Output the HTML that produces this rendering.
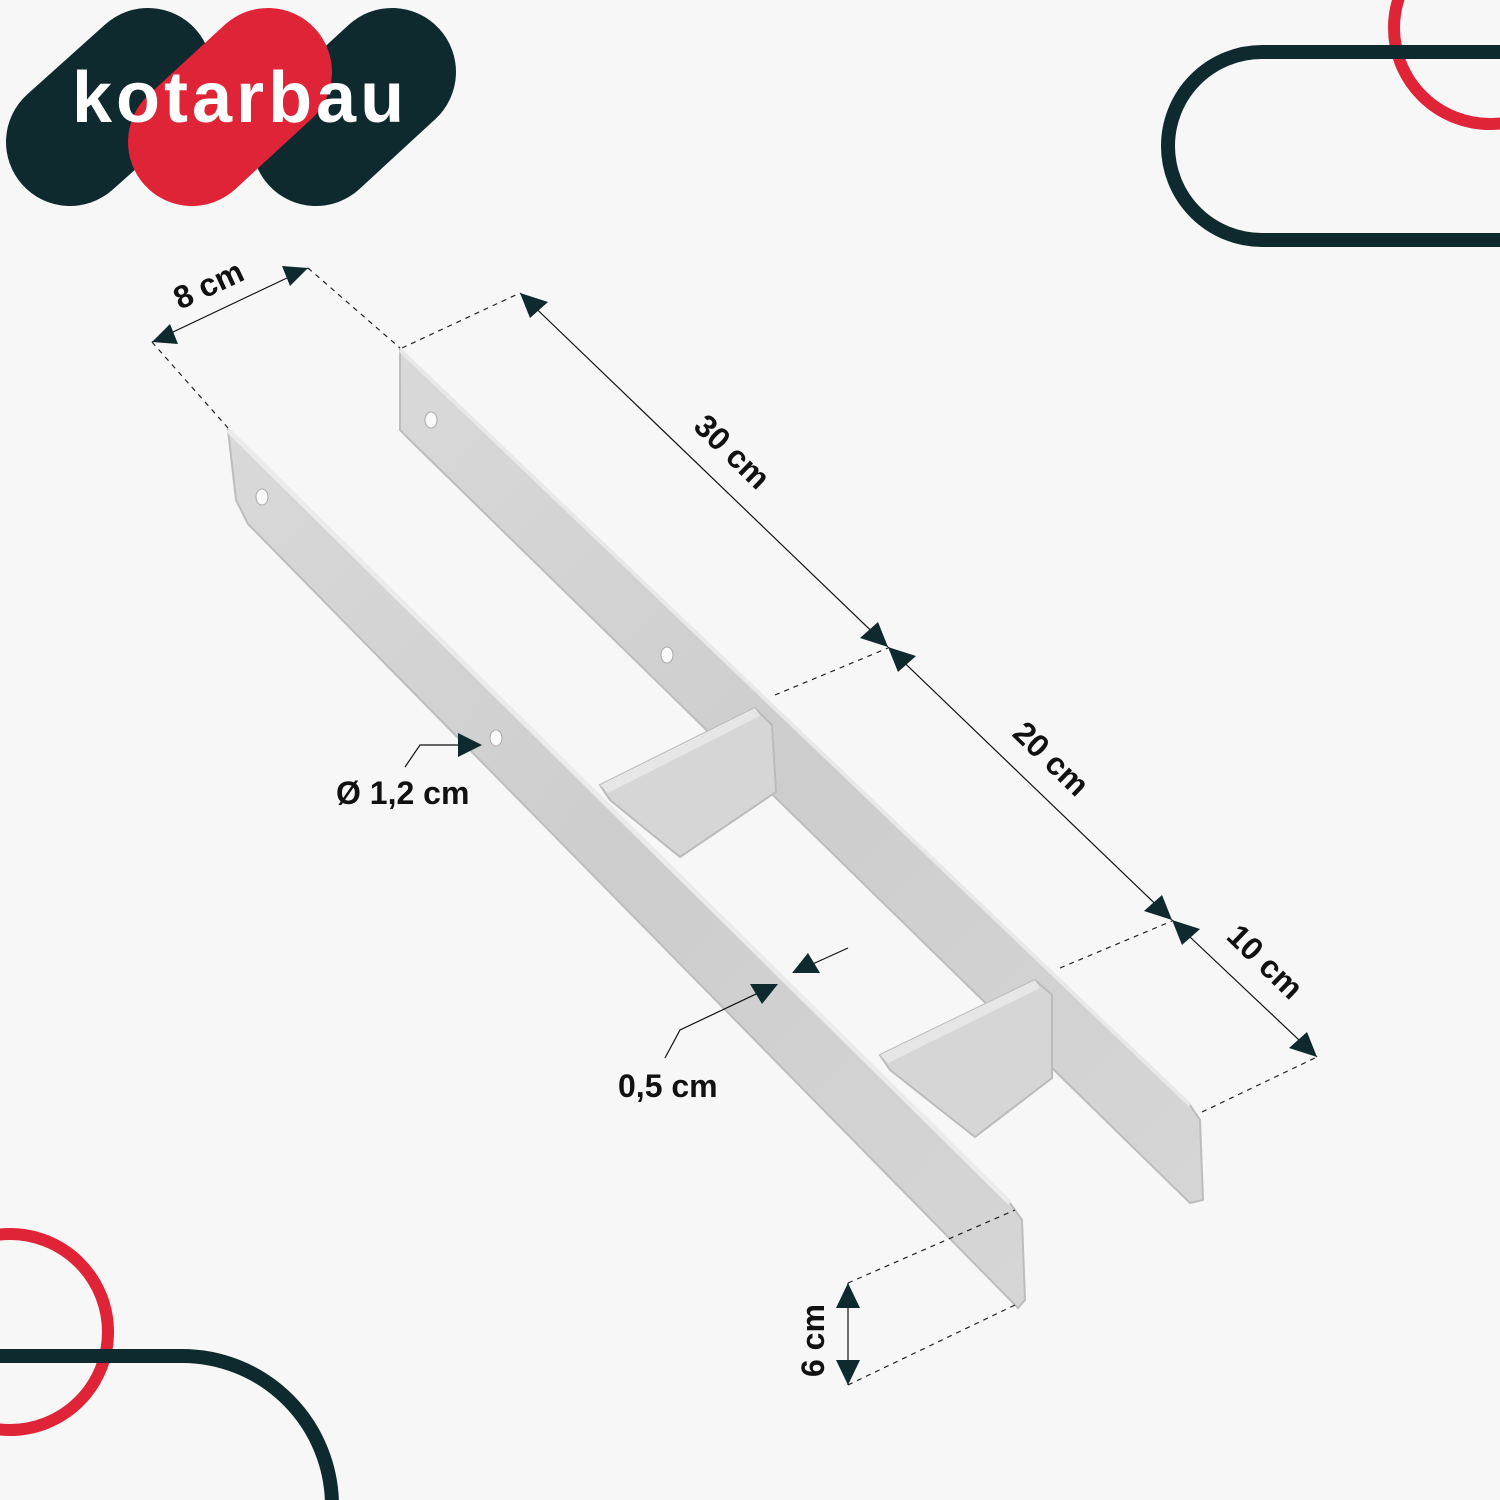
<!DOCTYPE html>
<html><head><meta charset="utf-8"><style>
html,body{margin:0;padding:0;background:#f7f7f7;}
svg{display:block}
text{font-family:"Liberation Sans","DejaVu Sans",sans-serif;font-weight:bold;fill:#111;}
</style></head><body>
<svg width="1500" height="1500" viewBox="0 0 1500 1500" xmlns="http://www.w3.org/2000/svg">
<defs>
<linearGradient id="g1" x1="0" y1="0" x2="1" y2="1">
<stop offset="0" stop-color="#d9d9d9"/><stop offset="0.5" stop-color="#cdcdcd"/><stop offset="1" stop-color="#d6d6d6"/>
</linearGradient>
</defs>
<rect width="1500" height="1500" fill="#f7f7f7"/>
<circle cx="1490" cy="28" r="96" fill="none" stroke="#e02438" stroke-width="12"/>
<path d="M1520 52 H1262 A94 94 0 0 0 1262 240 H1520" fill="none" stroke="#0f2a2e" stroke-width="14"/>
<circle cx="10" cy="1332" r="98" fill="none" stroke="#e02438" stroke-width="12"/>
<path d="M-20 1356 H182 A150 150 0 0 1 332 1506" fill="none" stroke="#0f2a2e" stroke-width="14"/>
<line x1="70" y1="142" x2="148" y2="72" stroke="#0f2a2e" stroke-width="128" stroke-linecap="round"/>
<line x1="316" y1="142" x2="392" y2="72" stroke="#0f2a2e" stroke-width="128" stroke-linecap="round"/>
<line x1="192" y1="142" x2="268" y2="72" stroke="#e02438" stroke-width="128" stroke-linecap="round"/>
<text x="72" y="122" font-size="72" style="fill:#fff;font-family:'Liberation Sans',sans-serif;font-weight:bold;letter-spacing:4px">kotarbau</text>
<polygon points="400,350 1190,1105 1200,1120 1203,1200 1190,1203 414,444 400,430" fill="url(#g1)" stroke="#bdbdbd" stroke-width="2"/>
<polyline points="400,350 1190,1105" stroke="#e8e8e8" stroke-width="4" fill="none"/>
<polygon points="600,785 755,708 772,725 776,792 680,857 610,800" fill="#d6d6d6" stroke="#bbb" stroke-width="2"/>
<polygon points="600,785 755,708 760,716 608,793" fill="#e6e6e6"/>
<polygon points="880,1055 1035,980 1052,995 1052,1078 975,1137 890,1070" fill="#d6d6d6" stroke="#bbb" stroke-width="2"/>
<polygon points="880,1055 1035,980 1040,988 888,1063" fill="#e6e6e6"/>
<polygon points="228,430 1010,1203 1022,1220 1025,1300 1018,1308 248,524 236,500" fill="url(#g1)" stroke="#bdbdbd" stroke-width="2"/>
<polyline points="228,430 1010,1203" stroke="#ebebeb" stroke-width="5" fill="none"/>
<ellipse cx="431" cy="420" rx="6" ry="8" fill="#fafafa" stroke="#aaa"/>
<ellipse cx="667" cy="655" rx="6" ry="8" fill="#fafafa" stroke="#aaa"/>
<ellipse cx="262" cy="497" rx="6" ry="8" fill="#fafafa" stroke="#aaa"/>
<ellipse cx="496" cy="738" rx="6" ry="8" fill="#fafafa" stroke="#aaa"/>
<g stroke="#222" stroke-width="1.2" stroke-dasharray="5,5" fill="none">
<line x1="152" y1="342" x2="228" y2="428"/>
<line x1="308" y1="268" x2="400" y2="348"/>
<line x1="402" y1="348" x2="520" y2="293"/>
<line x1="775" y1="695" x2="888" y2="648"/>
<line x1="1060" y1="968" x2="1172" y2="921"/>
<line x1="1202" y1="1112" x2="1317" y2="1057"/>
<line x1="848" y1="1283" x2="1015" y2="1210"/>
<line x1="848" y1="1385" x2="1015" y2="1305"/>
</g>
<g stroke="#111" stroke-width="1.2" fill="none">
<line x1="152" y1="342" x2="308" y2="268"/>
<line x1="520" y1="293" x2="888" y2="647"/>
<line x1="888" y1="647" x2="1172" y2="920"/>
<line x1="1172" y1="920" x2="1317" y2="1057"/>
<line x1="848" y1="1283" x2="848" y2="1385"/>
<polyline points="405,767 420,745 480,745"/>
<polyline points="665,1058 680,1030 775,985"/>
<line x1="848" y1="948" x2="795" y2="972"/>
</g>
<g fill="#0f2a2e">
<polygon points="152,342 178,344 170,324"/>
<polygon points="308,268 282,266 290,286"/>
<polygon points="520,293 548,302 530,318"/>
<polygon points="888,647 860,638 878,622"/>
<polygon points="888,647 916,656 898,672"/>
<polygon points="1172,920 1144,911 1162,895"/>
<polygon points="1172,920 1200,929 1182,945"/>
<polygon points="1317,1057 1289,1048 1307,1032"/>
<polygon points="848,1283 836,1308 860,1308"/>
<polygon points="848,1385 836,1360 860,1360"/>
<polygon points="482,745 458,733 458,757"/>
<polygon points="778,984 750,984 762,1004"/>
<polygon points="792,973 820,973 808,953"/>
</g>
<text x="0" y="0" font-size="32" transform="translate(180,310) rotate(-25)">8 cm</text>
<text x="0" y="0" font-size="32" transform="translate(692,428) rotate(44)">30 cm</text>
<text x="0" y="0" font-size="32" transform="translate(1011,735) rotate(44)">20 cm</text>
<text x="0" y="0" font-size="32" transform="translate(1225,938) rotate(44)">10 cm</text>
<text x="0" y="0" font-size="32" transform="translate(824,1377) rotate(-90)">6 cm</text>
<text x="336" y="804" font-size="32">Ø 1,2 cm</text>
<text x="618" y="1097" font-size="32">0,5 cm</text>
</svg>
</body></html>
